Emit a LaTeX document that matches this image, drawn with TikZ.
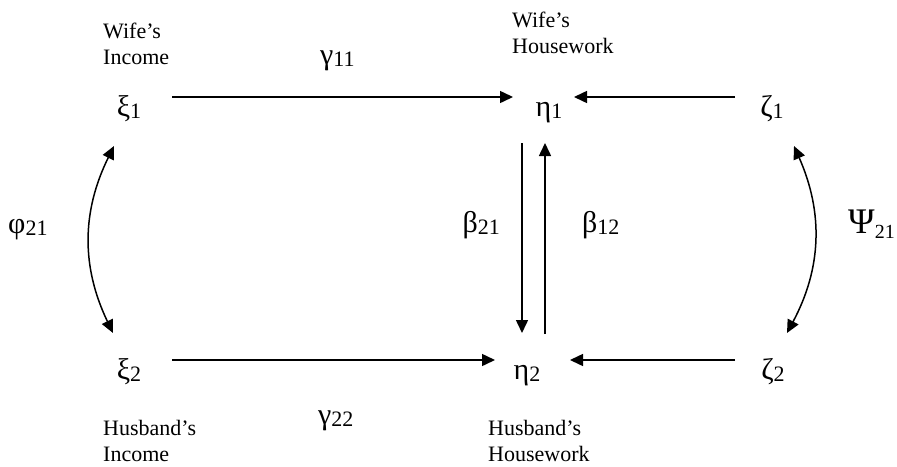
\documentclass[tikz,border=0pt]{standalone}
\usepackage{fontspec}
\setmainfont{Liberation Serif}
\usetikzlibrary{arrows.meta,calc}
\newcommand\grsym[3][30]{{\fontsize{#1}{#1}\selectfont #2}{\fontsize{22}{22}\selectfont\raisebox{-2pt}{#3}}}
\begin{document}
\begin{tikzpicture}[x=1pt,y=-1pt,
  arr/.style={line width=1.5pt,-{Triangle[length=13pt,width=12pt]}},
  biarr/.style={line width=1.5pt,{Triangle[length=13pt,width=12pt]}-{Triangle[length=13pt,width=12pt]}},
  var/.style={anchor=base,inner sep=0pt},
  lbl/.style={anchor=base west,inner sep=0pt,font=\fontsize{22}{26}\selectfont},
  coef/.style={inner sep=0pt}]
\path[use as bounding box] (0,0) rectangle (897,466);
% variables
\node[var] (xia) at (129,116) {\grsym{ξ}{1}};
\node[var] (etaa) at (549,116) {\grsym{η}{1}};
\node[var] (zetaa) at (772,116) {\grsym{ζ}{1}};
\node[var] (xib) at (129,379) {\grsym{ξ}{2}};
\node[var] (etab) at (527,379) {\grsym{η}{2}};
\node[var] (zetab) at (773,379) {\grsym{ζ}{2}};
% arrows
\draw[arr] ([shift={(43,-19)}]xia.base) -- ([shift={(-36,-19)}]etaa.base);
\draw[arr] ([shift={(-37,-19)}]zetaa.base) -- ([shift={(25,-19)}]etaa.base);
\draw[arr] ([shift={(43,-19)}]xib.base) -- ([shift={(-32,-19)}]etab.base);
\draw[arr] ([shift={(-38,-19)}]zetab.base) -- ([shift={(43,-19)}]etab.base);
\draw[arr] ([shift={(-27,27)}]etaa.base) -- ([shift={(-5,-46)}]etab.base);
\draw[arr] ([shift={(18,-45)}]etab.base) -- ([shift={(-4,27)}]etaa.base);
\draw[biarr] ([shift={(-16,-46)}]xib.base) to[bend left=26] ([shift={(-15,30)}]xia.base);
\draw[biarr] ([shift={(14,-46)}]zetab.base) to[bend right=26] ([shift={(22,30)}]zetaa.base);
% labels
\node[lbl] (wi) at (103,38) {\begin{tabular}[t]{@{}l@{}}Wife’s\\Income\end{tabular}};
\node[lbl] (wh) at (512,27) {\begin{tabular}[t]{@{}l@{}}Wife’s\\Housework\end{tabular}};
\node[lbl] (hi) at (103,435) {\begin{tabular}[t]{@{}l@{}}Husband’s\\Income\end{tabular}};
\node[lbl] (hh) at (488,435) {\begin{tabular}[t]{@{}l@{}}Husband’s\\Housework\end{tabular}};
% coefficients
\node[coef,anchor=base west] (g11) at (320,64) {\grsym{γ}{11}};
\node[coef,anchor=base west] (g22) at (318,424) {\grsym{γ}{22}};
\node[coef,anchor=base west] (phi) at (8,233) {\grsym{φ}{21}};
\node[coef,anchor=base east] (b21) at (500,232) {\grsym{β}{21}};
\node[coef,anchor=base west] (b12) at (582,232) {\grsym{β}{12}};
\node[coef,anchor=base west] (psi) at (848,233) {{\fontsize{36}{36}\selectfont Ψ}{\fontsize{20}{20}\selectfont\raisebox{-5pt}{21}}};
\end{tikzpicture}
\end{document}
